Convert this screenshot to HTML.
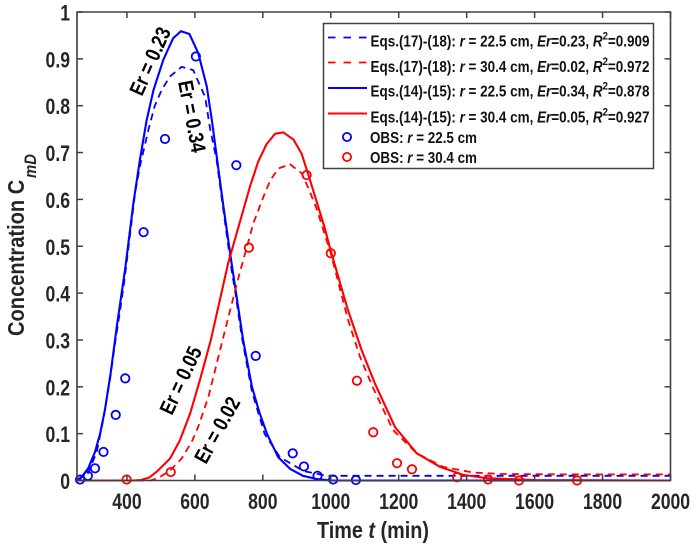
<!DOCTYPE html>
<html lang="en">
<head>
<meta charset="utf-8">
<title>Concentration vs Time</title>
<style>
html,body{margin:0;padding:0;background:#fff;width:697px;height:548px;overflow:hidden}
svg{display:block}
text{font-family:"Liberation Sans",sans-serif;font-weight:bold}
</style>
</head>
<body>
<svg id="chart" width="697" height="548" viewBox="0 0 697 548" xmlns="http://www.w3.org/2000/svg">
  <g id="plot-marks"></g>
  <g id="axes-layer"></g>

  <text transform="translate(24,336) rotate(-90)" font-size="23" fill="#262626" textLength="182" lengthAdjust="spacingAndGlyphs">Concentration C<tspan font-size="17" font-style="italic" dy="12" dx="2">mD</tspan></text>
  <text x="317" y="538" font-size="23" fill="#262626" textLength="112" lengthAdjust="spacingAndGlyphs">Time <tspan font-style="italic">t</tspan> (min)</text>

  <text transform="translate(142,97) rotate(-66)" font-size="21" fill="#000" textLength="72" lengthAdjust="spacingAndGlyphs">Er = 0.23</text>
  <text transform="translate(178,82) rotate(79)" font-size="21" fill="#000" textLength="73" lengthAdjust="spacingAndGlyphs">Er = 0.34</text>
  <text transform="translate(172,416) rotate(-65)" font-size="21" fill="#000" textLength="72" lengthAdjust="spacingAndGlyphs">Er = 0.05</text>
  <text transform="translate(206,465) rotate(-61)" font-size="21" fill="#000" textLength="72" lengthAdjust="spacingAndGlyphs">Er = 0.02</text>

  <g>
    <rect x="323.5" y="23.5" width="330" height="145" fill="#fff" stroke="#404040" stroke-width="1.5"/>
    <g>
      <line x1="328" y1="37.5" x2="367" y2="37.5" stroke="#0000ff" stroke-width="1.8" stroke-dasharray="7.5,8"/>
      <text x="370.5" y="46.5" font-size="15.5" fill="#111" textLength="279" lengthAdjust="spacingAndGlyphs">Eqs.(17)-(18): <tspan font-style="italic">r</tspan> = 22.5 cm, <tspan font-style="italic">Er</tspan>=0.23, <tspan font-style="italic">R</tspan><tspan font-size="11" dy="-7">2</tspan><tspan dy="7">=0.909</tspan></text>
    </g>
    <g>
      <line x1="328" y1="62.5" x2="367" y2="62.5" stroke="#ff0000" stroke-width="1.8" stroke-dasharray="7.5,8"/>
      <text x="370.5" y="72" font-size="15.5" fill="#111" textLength="279" lengthAdjust="spacingAndGlyphs">Eqs.(17)-(18): <tspan font-style="italic">r</tspan> = 30.4 cm, <tspan font-style="italic">Er</tspan>=0.02, <tspan font-style="italic">R</tspan><tspan font-size="11" dy="-7">2</tspan><tspan dy="7">=0.972</tspan></text>
    </g>
    <g>
      <line x1="328" y1="88" x2="367" y2="88" stroke="#0000ff" stroke-width="2"/>
      <text x="370.5" y="96.5" font-size="15.5" fill="#111" textLength="279" lengthAdjust="spacingAndGlyphs">Eqs.(14)-(15): <tspan font-style="italic">r</tspan> = 22.5 cm, <tspan font-style="italic">Er</tspan>=0.34, <tspan font-style="italic">R</tspan><tspan font-size="11" dy="-7">2</tspan><tspan dy="7">=0.878</tspan></text>
    </g>
    <g>
      <line x1="328" y1="113.5" x2="367" y2="113.5" stroke="#ff0000" stroke-width="2"/>
      <text x="370.5" y="122.5" font-size="15.5" fill="#111" textLength="279" lengthAdjust="spacingAndGlyphs">Eqs.(14)-(15): <tspan font-style="italic">r</tspan> = 30.4 cm, <tspan font-style="italic">Er</tspan>=0.05, <tspan font-style="italic">R</tspan><tspan font-size="11" dy="-7">2</tspan><tspan dy="7">=0.927</tspan></text>
    </g>
    <g>
      <circle cx="347" cy="137" r="4.1" fill="none" stroke="#0000ff" stroke-width="1.8"/>
      <text x="370" y="143" font-size="15.5" fill="#111" textLength="107" lengthAdjust="spacingAndGlyphs">OBS: <tspan font-style="italic">r</tspan> = 22.5 cm</text>
    </g>
    <g>
      <circle cx="347" cy="157" r="4.1" fill="none" stroke="#ff0000" stroke-width="1.8"/>
      <text x="370" y="163" font-size="15.5" fill="#111" textLength="107" lengthAdjust="spacingAndGlyphs">OBS: <tspan font-style="italic">r</tspan> = 30.4 cm</text>
    </g>
  </g>
</svg>
<script>
const xTicks = [400, 600, 800, 1000, 1200, 1400, 1600, 1800, 2000];
const yTicks = [0, 0.1, 0.2, 0.3, 0.4, 0.5, 0.6, 0.7, 0.8, 0.9, 1];

const blueDashT = [253, 286, 311, 330, 350, 365, 380, 394, 424, 438, 463, 482, 502, 526, 561, 595, 630, 645, 664, 679, 708, 718, 738, 768, 805, 850, 920, 990, 1200, 1600, 2000];
const blueDashC = [0.002, 0.016, 0.061, 0.129, 0.215, 0.293, 0.364, 0.435, 0.614, 0.67, 0.748, 0.8, 0.833, 0.862, 0.883, 0.876, 0.819, 0.75, 0.684, 0.603, 0.449, 0.407, 0.307, 0.19, 0.1, 0.05, 0.02, 0.01, 0.01, 0.01, 0.01];

const redDashT = [253, 400, 470, 491, 525, 561, 591, 610, 640, 674, 699, 733, 748, 772, 802, 822, 846, 880, 914, 934, 958, 981, 1000, 1050, 1086, 1125, 1183, 1253, 1331, 1419, 1500, 1700, 2000];
const redDashC = [0, 0, 0, 0.005, 0.02, 0.047, 0.083, 0.115, 0.179, 0.278, 0.35, 0.446, 0.485, 0.549, 0.606, 0.641, 0.666, 0.675, 0.656, 0.624, 0.581, 0.528, 0.485, 0.345, 0.264, 0.197, 0.108, 0.058, 0.029, 0.017, 0.014, 0.013, 0.013];

const blueSolidT = [253, 262, 286, 306, 321, 335, 352, 370, 395, 419, 438, 458, 478, 507, 536, 559, 584, 610, 635, 650, 684, 708, 742, 768, 790, 812, 845, 880, 918, 960, 1000, 1400, 2000];
const blueSolidC = [0.001, 0.003, 0.026, 0.061, 0.1, 0.15, 0.229, 0.328, 0.453, 0.592, 0.684, 0.769, 0.833, 0.898, 0.944, 0.959, 0.953, 0.912, 0.841, 0.769, 0.585, 0.464, 0.3, 0.2, 0.145, 0.1, 0.05, 0.025, 0.01, 0.003, 0, 0, 0];

const redSolidT = [253, 420, 441, 465, 488, 527, 556, 586, 615, 647, 698, 762, 786, 811, 836, 860, 890, 914, 939, 981, 1000, 1050, 1091, 1130, 1189, 1253, 1322, 1390, 1460, 1600, 2000];
const redSolidC = [0, 0, 0.001, 0.006, 0.019, 0.047, 0.086, 0.143, 0.215, 0.3, 0.464, 0.627, 0.68, 0.718, 0.74, 0.743, 0.728, 0.698, 0.641, 0.542, 0.49, 0.365, 0.278, 0.207, 0.114, 0.058, 0.029, 0.012, 0.005, 0.001, 0];

const obsBlueT = [262, 285, 306, 331, 367, 395, 449, 512, 603, 722, 779, 888, 921, 961, 1007, 1074];
const obsBlueC = [0.002, 0.01, 0.026, 0.061, 0.14, 0.218, 0.53, 0.729, 0.905, 0.673, 0.266, 0.058, 0.03, 0.01, 0.002, 0.001];

const obsRedT = [399, 529, 759, 929, 1000, 1077, 1125, 1195, 1239, 1372, 1463, 1554, 1725];
const obsRedC = [0.002, 0.018, 0.497, 0.652, 0.485, 0.213, 0.103, 0.037, 0.024, 0.007, 0.002, 0, 0];

const NS = 'http://www.w3.org/2000/svg';
const plotLeft = 77, plotRight = 670.5, plotTop = 12, plotBottom = 480.5;
const xMin = 253, xMax = 2000, yMin = 0, yMax = 1;

function xScale(v) { return plotLeft + (v - xMin) / (xMax - xMin) * (plotRight - plotLeft); }
function yScale(v) { return plotBottom - (v - yMin) / (yMax - yMin) * (plotBottom - plotTop); }

const marks = document.getElementById('plot-marks');
const axes = document.getElementById('axes-layer');

function drawLine(ts, cs, color, width, dash, name) {
  const el = document.createElementNS(NS, 'polyline');
  
  
  el.setAttribute('points', ts.map((t, i) => xScale(t).toFixed(2) + ',' + yScale(cs[i]).toFixed(2)).join(' '));
  el.setAttribute('fill', 'none');
  el.setAttribute('stroke', color);
  el.setAttribute('stroke-width', width);
  el.setAttribute('stroke-linejoin', 'round');
  if (dash) el.setAttribute('stroke-dasharray', dash);
  marks.appendChild(el);
}

function drawPoints(ts, cs, color, name) {
  ts.forEach((t, i) => {
    const c = document.createElementNS(NS, 'circle');
    
    
    c.setAttribute('cx', xScale(t).toFixed(2));
    c.setAttribute('cy', yScale(cs[i]).toFixed(2));
    c.setAttribute('r', '4.2');
    c.setAttribute('fill', 'none');
    c.setAttribute('stroke', color);
    c.setAttribute('stroke-width', '1.8');
    marks.appendChild(c);
  });
}

drawLine(blueDashT, blueDashC, '#0000ff', 1.8, '7,5', 'series-eq17-r22-dashed');
drawLine(blueSolidT, blueSolidC, '#0000ff', 2.1, '', 'series-eq14-r22-solid');
drawLine(redDashT, redDashC, '#ff0000', 1.8, '7,5', 'series-eq17-r30-dashed');
drawLine(redSolidT, redSolidC, '#ff0000', 2.1, '', 'series-eq14-r30-solid');
drawPoints(obsBlueT, obsBlueC, '#0000ff', 'obs-point-r22');
drawPoints(obsRedT, obsRedC, '#ff0000', 'obs-point-r30');

const frame = document.createElementNS(NS, 'path');


frame.setAttribute('d', 'M' + plotLeft + ' ' + plotTop + 'H' + plotRight + 'V' + plotBottom + 'H' + plotLeft + 'Z');
frame.setAttribute('fill', 'none');
frame.setAttribute('stroke', '#404040');
frame.setAttribute('stroke-width', '1.6');
axes.appendChild(frame);

function tick(x1, y1, x2, y2, name) {
  const l = document.createElementNS(NS, 'line');
  
  
  l.setAttribute('x1', x1);
  l.setAttribute('y1', y1);
  l.setAttribute('x2', x2);
  l.setAttribute('y2', y2);
  l.setAttribute('stroke', '#404040');
  l.setAttribute('stroke-width', '1.5');
  axes.appendChild(l);
}

function label(x, y, str, anchor, name) {
  const t = document.createElementNS(NS, 'text');
  
  
  t.setAttribute('transform', 'translate(' + x + ',' + y + ') scale(0.8,1)');
  t.setAttribute('text-anchor', anchor);
  t.setAttribute('font-size', '22');
  t.setAttribute('fill', '#262626');
  t.textContent = str;
  axes.appendChild(t);
}

xTicks.forEach(v => {
  const x = xScale(v);
  tick(x, plotBottom, x, plotBottom - 6, 'x-tick');
  tick(x, plotTop, x, plotTop + 6, 'x-tick-top');
  label(x, 509, String(v), 'middle', 'x-tick-label');
});

yTicks.forEach(v => {
  const y = yScale(v);
  tick(plotLeft, y, plotLeft + 6, y, 'y-tick');
  tick(plotRight, y, plotRight - 6, y, 'y-tick-right');
  label(70, y + 8.5, String(v), 'end', 'y-tick-label');
});
</script>
</body>
</html>
